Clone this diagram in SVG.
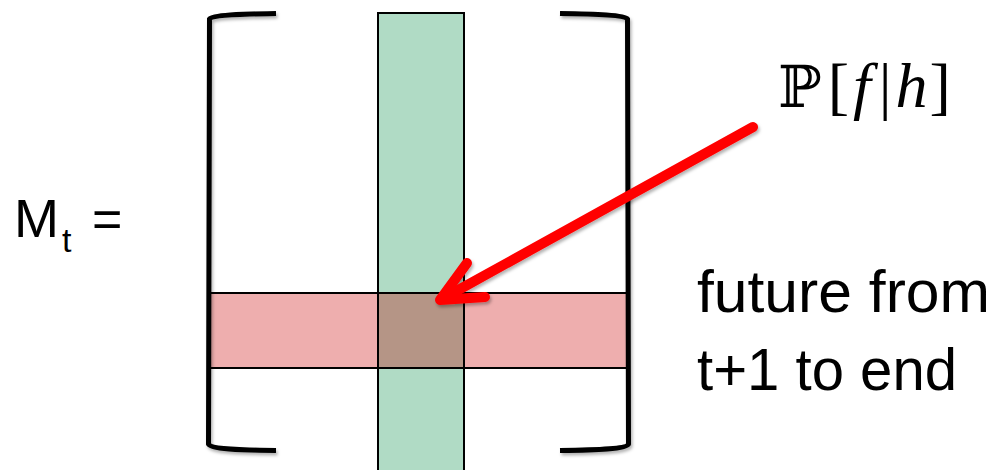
<svg xmlns="http://www.w3.org/2000/svg" width="1001" height="470" viewBox="0 0 1001 470">
<style>
.br{fill:none;stroke:#000;stroke-width:5;stroke-linecap:butt}
.edge{fill:none;stroke:#000;stroke-width:2}
.lbl{font-family:"Liberation Sans",Arial,sans-serif;fill:#000}
.math{font-family:"Liberation Serif","DejaVu Serif",serif;fill:#000}
.arr{fill:none;stroke:#ff0000;stroke-width:10;stroke-linecap:round;stroke-linejoin:round}
</style>
<defs>
<filter id="sh" x="-20%" y="-20%" width="140%" height="140%">
<feDropShadow dx="1.5" dy="2.5" stdDeviation="1.5" flood-color="#000" flood-opacity="0.3"/>
</filter>
</defs>
<rect width="1001" height="470" fill="#fff"/>
<g id="column">
<rect x="378" y="13" width="86" height="470" fill="#b0dbc5"/>
</g>
<g id="row">
<rect x="208" y="293" width="419" height="75" fill="#eeaeae"/>
<rect x="378" y="293" width="86" height="75" fill="#b59586"/>
</g>
<g id="grid-lines">
<rect x="378" y="13" width="86" height="470" class="edge"/>
<rect x="208" y="293" width="419" height="75" class="edge"/>
</g>
<g id="brackets" filter="url(#sh)">
<path class="br" d="M276,13.5 C240,14 212,15 209.5,19 L208.5,444 C210,449 240,450 276,450.5"/>
<path class="br" d="M560,13.5 C596,14 625,15 627.5,19 L628.5,444 C627,449 596,450 560,450.5"/>
</g>
<g id="label-M">
<text class="lbl" x="14" y="237" font-size="54">M<tspan font-size="34" dx="3" dy="15">t</tspan><tspan dx="6" dy="-15" font-size="52"> =</tspan></text>
</g>
<g id="label-future">
<text class="lbl" x="697" y="312" font-size="60" textLength="293" lengthAdjust="spacingAndGlyphs">future from</text>
<text class="lbl" x="697" y="390" font-size="60" textLength="260" lengthAdjust="spacingAndGlyphs">t+1 to end</text>
</g>
<g id="label-P">
<text class="math" x="778" y="107" font-size="64"><tspan font-family="DejaVu Serif,serif" font-size="58">ℙ</tspan><tspan dx="6">[</tspan><tspan dx="4" font-style="italic">f</tspan><tspan dx="8">|</tspan><tspan dx="4" font-style="italic">h</tspan><tspan dx="2">]</tspan></text>
</g>
<g id="connectors" filter="url(#sh)">
<line class="arr" x1="753" y1="127" x2="442" y2="299"/>
<polyline class="arr" points="467,263 440,300 485,297"/>
</g>
</svg>
